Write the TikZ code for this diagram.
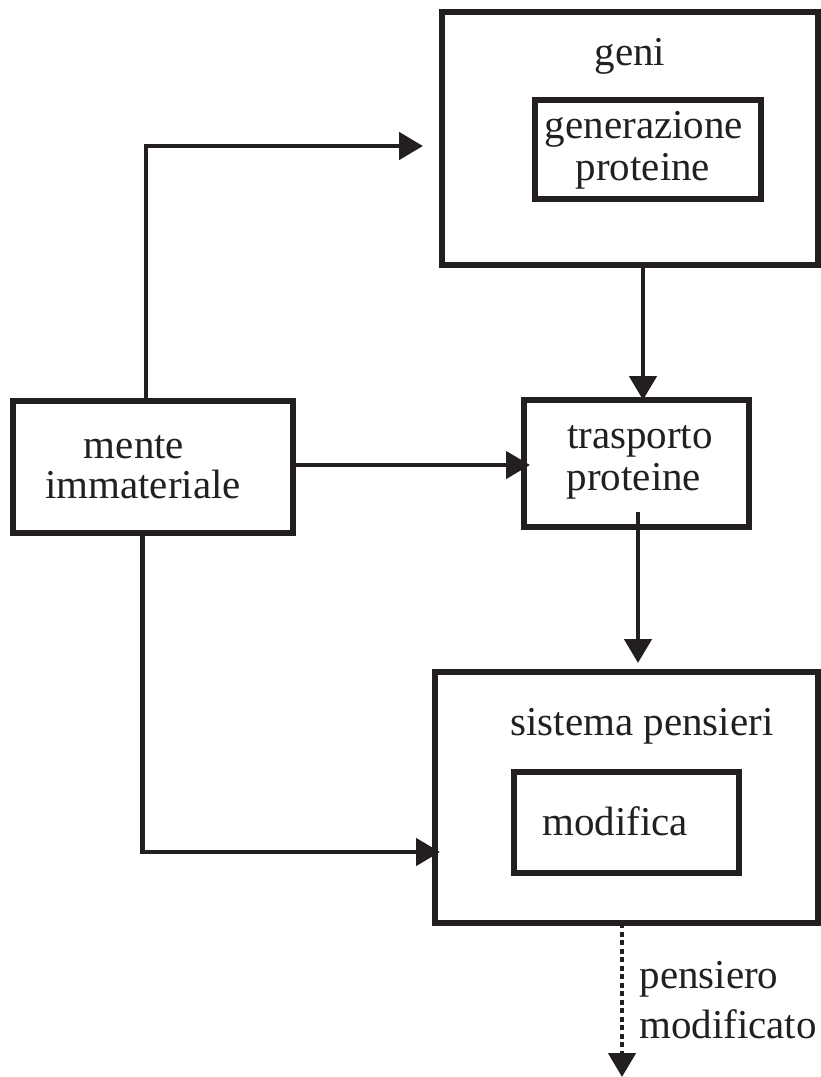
\documentclass[tikz,border=0pt]{standalone}
\usepackage{fontspec}
\setmainfont{Liberation Serif}
\usetikzlibrary{arrows.meta,fit}
\definecolor{ink}{HTML}{231F20}
\begin{document}
\begin{tikzpicture}[x=0.5pt,y=-0.5pt,
  box/.style={draw=ink, line width=2.9pt, inner sep=0pt, outer sep=0pt, rectangle},
  lbl/.style={anchor=base, inner sep=0pt, text=ink, font=\fontsize{20.5pt}{20.5pt}\selectfont},
  conn/.style={draw=ink, line width=2.4pt},
  tip/.style={-{Triangle[length=12pt,width=13.5pt]}}
]
\useasboundingbox[fill=white] (0,0) rectangle (820,1077);

% boxes
\node[box, fit={(442,12)(818,265)}] (geni) {};
\node[box, fit={(535,100)(761,199)}] (gen) {};
\node[box, fit={(13,401)(293,533)}] (mente) {};
\node[box, fit={(524,400)(749,527)}] (trasporto) {};
\node[box, fit={(435,672)(818,923)}] (sistema) {};
\node[box, fit={(514,772)(739,873)}] (modifica) {};

% labels
\node[lbl] (tgeni) at (630,65) {geni};
\node[lbl] (tgen1) at (644,138) {generazione};
\node[lbl] (tgen2) at (643,180) {proteine};
\node[lbl] (tmente1) at (134,458) {mente};
\node[lbl] (tmente2) at (143,498) {immateriale};
\node[lbl] (ttra1) at (640,448) {trasporto};
\node[lbl] (ttra2) at (634,490) {proteine};
\node[lbl] (tsis) at (642,735) {sistema pensieri};
\node[lbl] (tmod) at (615,835) {modifica};
\node[lbl] (tout1) at (709,988) {pensiero};
\node[lbl] (tout2) at (728,1038) {modificato};

% routing points
\coordinate (b1) at (146,146);
\coordinate (c2) at (643,0);
\coordinate (c3) at (0,465);
\coordinate (c4) at (638,0);
\coordinate (b5) at (142.5,852);
\coordinate (out) at (622,1077);

% connectors
\draw[conn,tip,shorten >=9.5pt] (mente.north -| b1) |- (b1 -| geni.west);
\draw[conn,tip] (geni.south -| c2) -- (trasporto.north -| c2);
\draw[conn,tip,shorten >=-3pt] (mente.east |- c3) -- (trasporto.west |- c3);
\draw[conn,tip,shorten <=-7.5pt,shorten >=4.5pt] (trasporto.south -| c4) -- (sistema.north -| c4);
\draw[conn,tip,shorten >=-2.5pt] (mente.south -| b5) |- (sistema.west |- b5);
\draw[conn,tip,dash pattern=on 2.5pt off 1.75pt] (sistema.south -| out) -- (out);
\end{tikzpicture}
\end{document}
